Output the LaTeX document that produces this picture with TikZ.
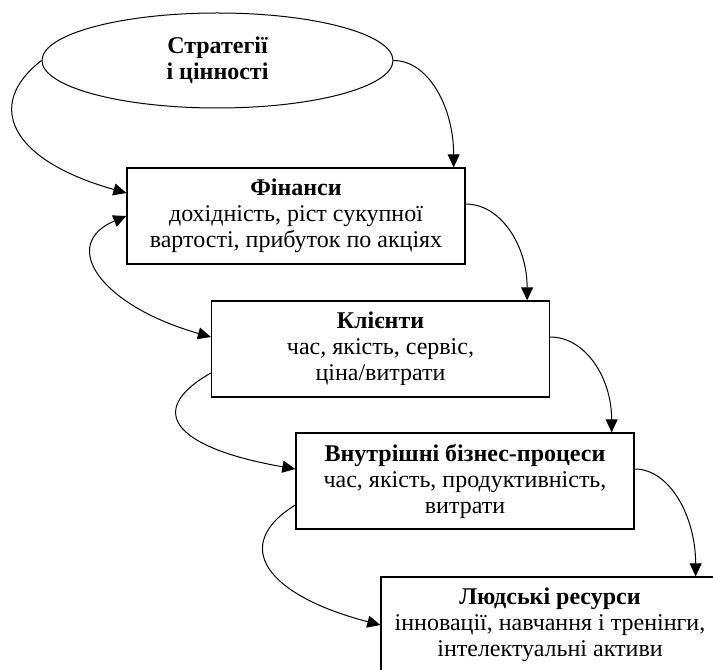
\documentclass[tikz,border=0pt]{standalone}
\usepackage{fontspec}
\setmainfont{Liberation Serif}
\usetikzlibrary{arrows.meta,positioning,calc,shapes.geometric}

\begin{document}
\begin{tikzpicture}[
    x=0.5pt, y=0.5pt,
    >={Triangle[length=6.5pt, width=6pt]},
    box/.style={draw, line width=0.65pt, minimum width=169pt, minimum height=48pt, inner sep=0pt, align=center},
    oval/.style={draw, ellipse, line width=0.5pt, minimum width=175.5pt, minimum height=47.5pt, inner sep=0pt, align=center, font=\fontsize{12}{13}\selectfont\bfseries},
    arrow/.style={->, line width=0.5pt},
    every node/.style={font=\fontsize{12}{13}\selectfont}
]
\useasboundingbox (0,0) rectangle (713,670);

% ---- Strategy ----
\node[oval] (strat) at (217.5, 609.5) {Стратегії\\і цінності};

% ---- Four perspectives ----
\node[box] (fin) at (296, 454) {\textbf{Фінанси}\\дохідність, ріст сукупної\\вартості, прибуток по акціях};
\node[box] (klient) at (380.5, 321) {\textbf{Клієнти}\\час, якість, сервіс,\\ціна/витрати};
\node[box] (proc) at (465, 189) {\textbf{Внутрішні бізнес-процеси}\\час, якість, продуктивність,\\витрати};
\node[box] (people) at (550, 45) {\textbf{Людські ресурси}\\інновації, навчання і тренінги,\\інтелектуальні активи};

% ---- Strategy arrows ----
\draw[arrow] (strat.west) .. controls +(-57,-44) and +(-117,33) .. ($(fin.west)+(0,23)$);
\draw[arrow] (strat.east) .. controls +(35,0) and +(0,60) .. ($(fin.north east)+(-12,0)$);

% ---- Right side chain ----
\draw[arrow] ($(fin.east)+(0,12)$) .. controls +(35,0) and +(0,55) .. ($(klient.north east)+(-23,0)$);
\draw[arrow] ($(klient.east)+(0,12)$) .. controls +(35,0) and +(0,55) .. ($(proc.north east)+(-23,0)$);
\draw[arrow] ($(proc.east)+(0,12)$) .. controls +(35,0) and +(0,60) .. ($(people.north east)+(-24,0)$);

% ---- Left side feedback ----
\draw[arrow, <->] (fin.west) .. controls +(-67,-28) and +(-112,32) .. ($(klient.west)+(0,12)$);
\draw[arrow] ($(klient.west)+(0,-24)$) .. controls +(-70,-40) and +(-115,20) .. ($(proc.west)+(0,12)$);
\draw[arrow] ($(proc.west)+(0,-24)$) .. controls +(-65,-40) and +(-115,30) .. (people.west);

\end{tikzpicture}
\end{document}
